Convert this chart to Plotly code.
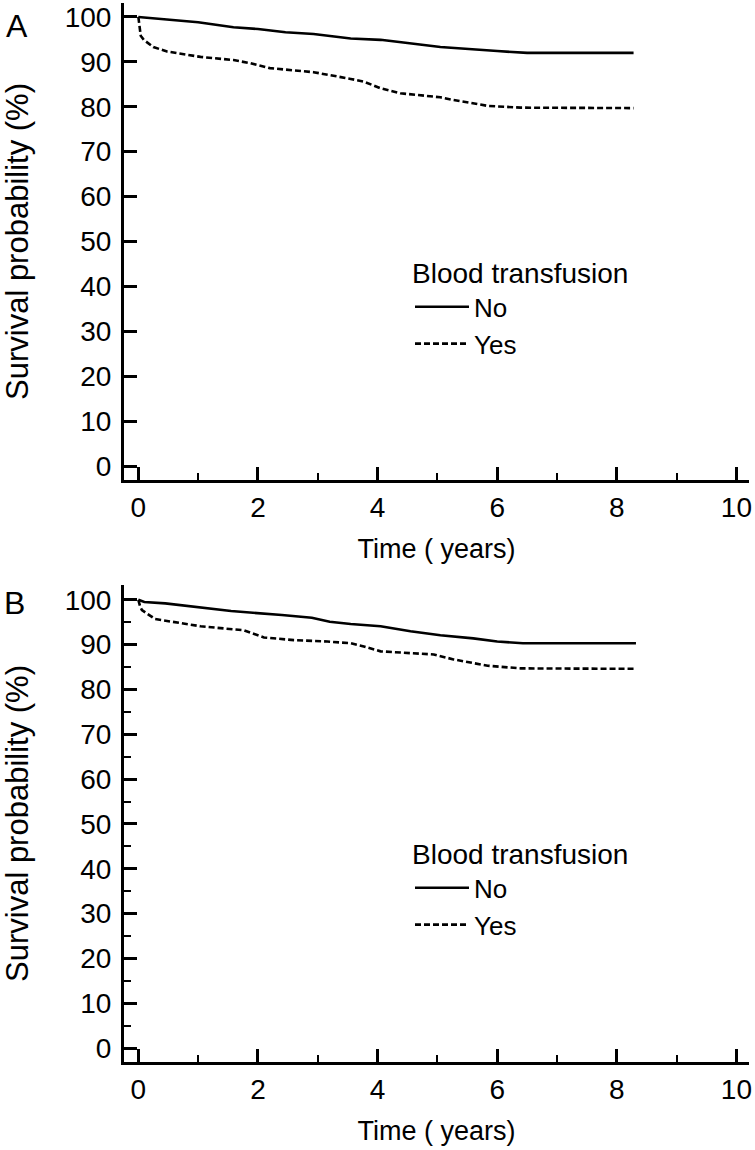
import plotly.graph_objects as go

# ---------------- data ----------------
# Panel A
a_no_t = [0, 0.48, 1.0, 1.59, 2.0, 2.46, 2.93, 3.55, 4.05, 4.5, 5.05, 6.0, 6.5, 8.28]
a_no_s = [100, 99.5, 98.8, 97.7, 97.3, 96.6, 96.2, 95.2, 94.9, 94.2, 93.3, 92.4, 92.0, 92.0]
a_yes_t = [0, 0.02, 0.04, 0.09, 0.25, 0.48, 1.04, 1.59, 1.87, 2.2, 2.93, 3.55, 3.77, 4.05, 4.38, 5.05, 5.27, 5.84, 6.39, 8.28]
a_yes_s = [100, 97.5, 95.8, 94.9, 93.3, 92.3, 91.1, 90.4, 89.7, 88.6, 87.7, 86.2, 85.6, 84.1, 83.0, 82.1, 81.5, 80.2, 79.8, 79.7]

# Panel B
b_no_t = [0, 0.1, 0.45, 1.55, 2.4, 2.9, 3.2, 3.55, 4.05, 4.55, 5.05, 5.6, 6.0, 6.43, 8.32]
b_no_s = [100, 99.5, 99.2, 97.5, 96.6, 96.0, 95.1, 94.6, 94.1, 93.0, 92.1, 91.4, 90.7, 90.3, 90.3]
b_yes_t = [0, 0.03, 0.06, 0.28, 1.04, 1.76, 2.1, 2.6, 3.16, 3.55, 3.77, 4.05, 4.94, 5.27, 5.84, 6.39, 8.32]
b_yes_s = [100, 98.5, 97.7, 95.7, 94.1, 93.2, 91.6, 91.0, 90.7, 90.3, 89.6, 88.5, 87.8, 86.7, 85.3, 84.7, 84.6]

series_names = ["No", "Yes"]
legend_title = "Blood transfusion"
x_title = "Time ( years)"
y_title = "Survival probability (%)"
panel_labels = ["A", "B"]
x_ticks = [0, 2, 4, 6, 8, 10]
y_ticks = [0, 10, 20, 30, 40, 50, 60, 70, 80, 90, 100]

# ---------------- figure ----------------
W, H = 755, 1150
ML, MR, MT, MB = 124, 6, 3, 88
PW, PH = W - ML - MR, H - MT - MB

FONT = "Liberation Sans, Arial, sans-serif"
BLACK = "#000000"


def px_x(p):
    return (p - ML) / PW


def px_y(p):
    return (H - MB - p) / PH


fig = go.Figure()

fig.add_trace(go.Scatter(x=a_no_t, y=a_no_s, mode="lines", name=series_names[0],
                         line=dict(color=BLACK, width=2.6), xaxis="x", yaxis="y", legend="legend"))
fig.add_trace(go.Scatter(x=a_yes_t, y=a_yes_s, mode="lines", name=series_names[1],
                         line=dict(color=BLACK, width=2.6, dash="6px,3px"), xaxis="x", yaxis="y", legend="legend"))
fig.add_trace(go.Scatter(x=b_no_t, y=b_no_s, mode="lines", name=series_names[0],
                         line=dict(color=BLACK, width=2.6), xaxis="x2", yaxis="y2", legend="legend2"))
fig.add_trace(go.Scatter(x=b_yes_t, y=b_yes_s, mode="lines", name=series_names[1],
                         line=dict(color=BLACK, width=2.6, dash="6px,3px"), xaxis="x2", yaxis="y2", legend="legend2"))

tickfont = dict(family=FONT, size=28, color=BLACK)
xtitlefont = dict(family=FONT, size=27, color=BLACK)
ytitlefont = dict(family=FONT, size=31, color=BLACK)
legtitlefont = dict(family=FONT, size=28, color=BLACK)
legfont = dict(family=FONT, size=26, color=BLACK)

xcommon = dict(
    range=[-0.24, 10.21], tickmode="array", tickvals=x_ticks,
    ticks="inside", ticklen=13, tickwidth=2.5, tickcolor=BLACK,
    showline=True, linewidth=3, linecolor=BLACK, showgrid=False, zeroline=False,
    minor=dict(dtick=1, tick0=0, ticks="inside", ticklen=7, tickwidth=2, tickcolor=BLACK, showgrid=False),
    tickfont=tickfont, ticklabelstandoff=0, automargin=False,
    title=dict(text=x_title, font=xtitlefont, standoff=18),
    fixedrange=True,
)
ycommon = dict(
    tickmode="array", tickvals=y_ticks,
    ticks="inside", ticklen=13, tickwidth=2.5, tickcolor=BLACK,
    showline=True, linewidth=3, linecolor=BLACK, showgrid=False, zeroline=False,
    tickfont=tickfont, ticklabelstandoff=4, automargin=False,
    title=dict(text=y_title, font=ytitlefont, standoff=34),
    fixedrange=True,
)

fig.update_layout(
    template="none",
    width=W, height=H,
    margin=dict(l=ML, r=MR, t=MT, b=MB, autoexpand=False),
    paper_bgcolor="white", plot_bgcolor="white",
    font=dict(family=FONT, color=BLACK),
    xaxis=dict(xcommon, domain=[0, 1], anchor="y"),
    yaxis=dict(ycommon, domain=[px_y(480), 1.0], range=[-3.1, 103.1], anchor="x"),
    xaxis2=dict(xcommon, domain=[0, 1], anchor="y2"),
    yaxis2=dict(ycommon, domain=[0, px_y(585)], range=[-3.1, 103.3], anchor="x2",
                minor=dict(dtick=5, tick0=0, ticks="inside", ticklen=7, tickwidth=2,
                           tickcolor=BLACK, showgrid=False)),
    legend=dict(
        x=px_x(410), y=px_y(247), xanchor="left", yanchor="top",
        bgcolor="rgba(0,0,0,0)", borderwidth=0,
        title=dict(text=legend_title, font=legtitlefont),
        font=legfont, itemwidth=54, tracegroupgap=0,
    ),
    legend2=dict(
        x=px_x(410), y=px_y(828), xanchor="left", yanchor="top",
        bgcolor="rgba(0,0,0,0)", borderwidth=0,
        title=dict(text=legend_title, font=legtitlefont),
        font=legfont, itemwidth=54, tracegroupgap=0,
    ),
    showlegend=True,
    annotations=[
        dict(text=panel_labels[0], x=px_x(4), y=px_y(26), xref="paper", yref="paper",
             xanchor="left", yanchor="middle", showarrow=False,
             font=dict(family=FONT, size=32, color=BLACK)),
        dict(text=panel_labels[1], x=px_x(2), y=px_y(603), xref="paper", yref="paper",
             xanchor="left", yanchor="middle", showarrow=False,
             font=dict(family=FONT, size=32, color=BLACK)),
    ],
)

fig.write_html(
    "out.html",
    config=dict(displayModeBar=False),
    post_script="document.body.style.margin='0px';",
)
